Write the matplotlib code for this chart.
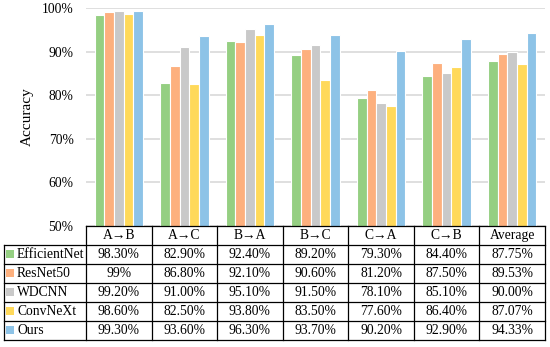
import matplotlib
matplotlib.use("Agg")
import matplotlib.pyplot as plt
import numpy as np

plt.rcParams['font.family'] = ['Liberation Serif', 'DejaVu Serif']

categories = ["A→B", "A→C", "B→A", "B→C", "C→A", "C→B", "Average"]
models = ["EfficientNet", "ResNet50", "WDCNN", "ConvNeXt", "Ours"]
efficientnet = [98.30, 82.90, 92.40, 89.20, 79.30, 84.40, 87.75]
resnet50 = [99.00, 86.80, 92.10, 90.60, 81.20, 87.50, 89.53]
wdcnn = [99.20, 91.00, 95.10, 91.50, 78.10, 85.10, 90.00]
convnext = [98.60, 82.50, 93.80, 83.50, 77.60, 86.40, 87.07]
ours = [99.30, 93.60, 96.30, 93.70, 90.20, 92.90, 94.33]
series = [efficientnet, resnet50, wdcnn, convnext, ours]
colors = ['#95CF82', '#FDB07E', '#C9C9C9', '#FFD95A', '#8DC3E7']
yticks = [50, 60, 70, 80, 90, 100]

def fmt(v, i, j):
    if i == 1 and j == 0:
        return "99%"
    return f"{v:.2f}%"

W, H = 550, 347
fig = plt.figure(figsize=(W / 100, H / 100), dpi=100)

x0, x1 = 86, 545
ytop, ybot = 8, 226
ax = fig.add_axes([x0 / W, 1 - ybot / H, (x1 - x0) / W, (ybot - ytop) / H])
n = len(categories)
xs = np.arange(n)
slot = 0.148
for i, (vals, c) in enumerate(zip(series, colors)):
    ax.bar(xs + (i - 2) * slot, vals, width=slot, color=c, edgecolor='white',
           linewidth=0.8, zorder=3)
ax.set_xlim(-0.5, n - 0.5)
ax.set_ylim(50, 100)
ax.set_yticks(yticks)
ax.set_yticklabels([f"{t}%" for t in yticks], fontsize=9.8)
ax.tick_params(axis='y', length=0, pad=9)
ax.tick_params(axis='x', length=0, labelbottom=False)
ax.grid(axis='y', color='#D9D9D9', linewidth=1.2, zorder=0)
for s in ax.spines.values():
    s.set_visible(False)
ax.set_ylabel("Accuracy", fontsize=11, labelpad=6)

# table overlay in pixel coordinates
tab = fig.add_axes([0, 0, 1, 1], facecolor='none')
tab.set_xlim(0, W)
tab.set_ylim(H, 0)
tab.axis('off')
colw = (x1 - x0) / n
col_edges = [x0 + k * colw for k in range(n + 1)]
row_edges = [226, 244.5, 263.6, 282.7, 301.8, 320.9, 340]
lw = 0.9
lab_x0 = 3.5
tab.plot([x0, x1], [row_edges[0], row_edges[0]], color='black', lw=lw)
for y in row_edges[1:]:
    tab.plot([lab_x0, x1], [y, y], color='black', lw=lw)
for k, x in enumerate(col_edges):
    tab.plot([x, x], [row_edges[0], row_edges[-1]], color='black', lw=lw)
tab.plot([lab_x0, lab_x0], [row_edges[1], row_edges[-1]], color='black', lw=lw)

fs = 9.8
for j, cat in enumerate(categories):
    cx = (col_edges[j] + col_edges[j + 1]) / 2
    cy = (row_edges[0] + row_edges[1]) / 2
    tab.text(cx, cy, cat, ha='center', va='center', fontsize=fs)
for i, (m, vals, c) in enumerate(zip(models, series, colors)):
    cy = (row_edges[i + 1] + row_edges[i + 2]) / 2
    tab.add_patch(plt.Rectangle((6, cy - 4), 8, 8, color=c, lw=0))
    tab.text(17, cy, m, ha='left', va='center', fontsize=fs)
    for j, v in enumerate(vals):
        cx = (col_edges[j] + col_edges[j + 1]) / 2
        tab.text(cx, cy, fmt(v, i, j), ha='center', va='center', fontsize=fs)

fig.savefig("out.png", dpi=100)
